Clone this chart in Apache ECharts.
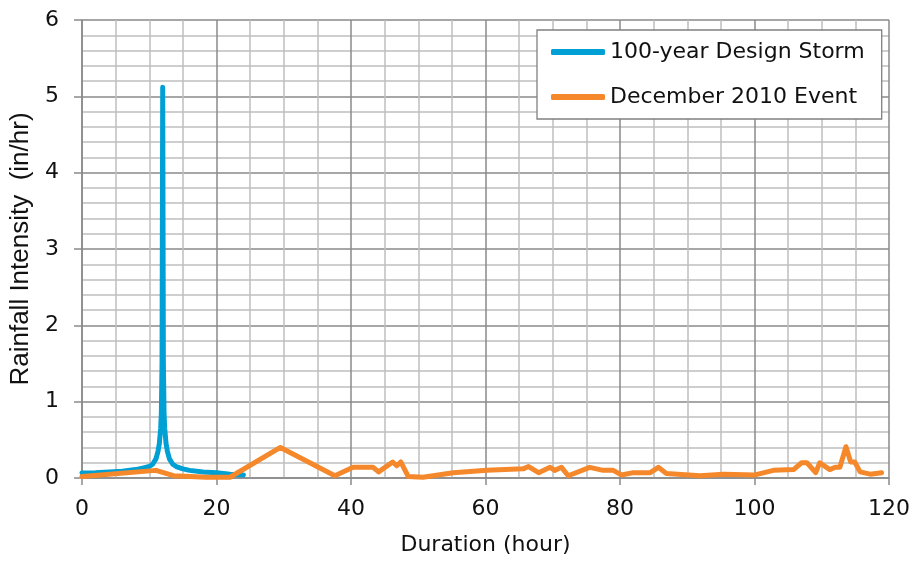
<!DOCTYPE html>
<html>
<head>
<meta charset="utf-8">
<title>Rainfall Intensity</title>
<script src="https://cdn.jsdelivr.net/npm/echarts@6/dist/echarts.min.js"></script>
<style>
  html, body { margin: 0; padding: 0; background: #ffffff; }
  #chart { width: 916px; height: 561px; }
</style>
</head>
<body>
<div id="chart"></div>
<script>
// 100-year design storm hyetograph (hour, in/hr)
const stormHours = [0, 2, 4, 6, 8, 9, 10, 10.5, 11, 11.3, 11.5, 11.7, 11.8, 11.9, 12.0, 12.1, 12.2, 12.3, 12.5, 12.7, 13, 13.5, 14, 15, 16, 18, 20, 22, 24];
const stormIntensity = [0.065, 0.07, 0.08, 0.09, 0.11, 0.13, 0.15, 0.18, 0.25, 0.35, 0.45, 0.65, 0.85, 1.5, 5.12, 1.5, 0.85, 0.65, 0.45, 0.35, 0.25, 0.18, 0.15, 0.12, 0.1, 0.08, 0.07, 0.05, 0.04];

// December 2010 observed event (hour, in/hr)
const eventHours = [0, 11, 13.6, 18.5, 22, 29.5, 37.6, 40.3, 43.3, 44.1, 46.2, 46.8, 47.4, 48.5, 50.7, 55.2, 60.2, 65.6, 66.4, 67.9, 69.6, 70.3, 71.3, 72.3, 75.5, 77.5, 79, 80.2, 82, 84.5, 85.7, 86.9, 91.9, 95.4, 100.1, 102.8, 105.8, 107, 107.8, 109.1, 109.7, 111.2, 112, 112.7, 113.6, 114.3, 114.9, 115.7, 117.2, 118.9];
const eventIntensity = [0.02, 0.1, 0.03, 0.01, 0.01, 0.4, 0.03, 0.14, 0.14, 0.08, 0.21, 0.16, 0.21, 0.02, 0.01, 0.07, 0.1, 0.12, 0.15, 0.07, 0.14, 0.1, 0.14, 0.03, 0.14, 0.1, 0.1, 0.04, 0.07, 0.07, 0.14, 0.06, 0.03, 0.05, 0.04, 0.1, 0.11, 0.2, 0.2, 0.07, 0.2, 0.11, 0.14, 0.14, 0.41, 0.21, 0.21, 0.08, 0.05, 0.07];

const seriesNames = ['100-year Design Storm', 'December 2010 Event'];
const xTitle = 'Duration (hour)';
const yTitle = 'Rainfall Intensity  (in/hr)';

const pairs = (xs, ys) => xs.map((x, i) => [x, ys[i]]);

const majorGrid = '#8a8a8a';
const minorGrid = '#bebebe';
const tickFont = { fontFamily: 'DejaVu Sans', fontSize: 22, color: '#111' };

const chart = echarts.init(document.getElementById('chart'), null, { renderer: 'canvas' });

chart.setOption({
  animation: false,
  backgroundColor: '#ffffff',
  grid: { left: 82, right: 27, top: 20, bottom: 83, containLabel: false },
  legend: {
    orient: 'vertical',
    left: 537,
    top: 30,
    padding: [10, 17, 10, 14],
    itemGap: 21,
    itemWidth: 54,
    itemHeight: 6,
    icon: 'roundRect',
    backgroundColor: '#ffffff',
    borderColor: '#808080',
    borderWidth: 1.3,
    textStyle: { fontFamily: 'DejaVu Sans', fontSize: 22, color: '#111', lineHeight: 24 },
    data: seriesNames
  },
  xAxis: {
    type: 'value',
    min: 0,
    max: 120,
    interval: 20,
    name: xTitle,
    nameLocation: 'middle',
    nameGap: 56,
    nameTextStyle: { fontFamily: 'DejaVu Sans', fontSize: 22, color: '#111' },
    axisLine: { show: true, lineStyle: { color: majorGrid, width: 1.5 } },
    axisTick: { show: true, inside: false, length: 7, lineStyle: { color: majorGrid, width: 1.5 } },
    axisLabel: Object.assign({ margin: 20 }, tickFont),
    splitLine: { show: true, lineStyle: { color: majorGrid, width: 1.5 } },
    minorTick: { show: false, splitNumber: 4 },
    minorSplitLine: { show: true, lineStyle: { color: minorGrid, width: 1.5 } }
  },
  yAxis: {
    type: 'value',
    min: 0,
    max: 6,
    interval: 1,
    name: yTitle,
    nameLocation: 'middle',
    nameGap: 48,
    nameRotate: 90,
    nameTextStyle: { fontFamily: 'Liberation Sans', fontSize: 26, color: '#111' },
    axisLine: { show: true, lineStyle: { color: majorGrid, width: 1.5 } },
    axisTick: { show: true, inside: false, length: 8, lineStyle: { color: majorGrid, width: 1.5 } },
    axisLabel: Object.assign({ margin: 23 }, tickFont),
    splitLine: { show: true, lineStyle: { color: majorGrid, width: 1.5 } },
    minorTick: { show: false, splitNumber: 5 },
    minorSplitLine: { show: true, lineStyle: { color: minorGrid, width: 1.5 } }
  },
  series: [
    {
      name: seriesNames[0],
      type: 'line',
      data: pairs(stormHours, stormIntensity),
      showSymbol: false,
      symbol: 'none',
      smooth: false,
      color: '#00a0d4',
      lineStyle: { color: '#00a0d4', width: 5, cap: 'round', join: 'round' },
      z: 2
    },
    {
      name: seriesNames[1],
      type: 'line',
      data: pairs(eventHours, eventIntensity),
      showSymbol: false,
      symbol: 'none',
      smooth: false,
      color: '#f5882a',
      lineStyle: { color: '#f5882a', width: 5, cap: 'round', join: 'round' },
      z: 3
    }
  ]
});
</script>
</body>
</html>
